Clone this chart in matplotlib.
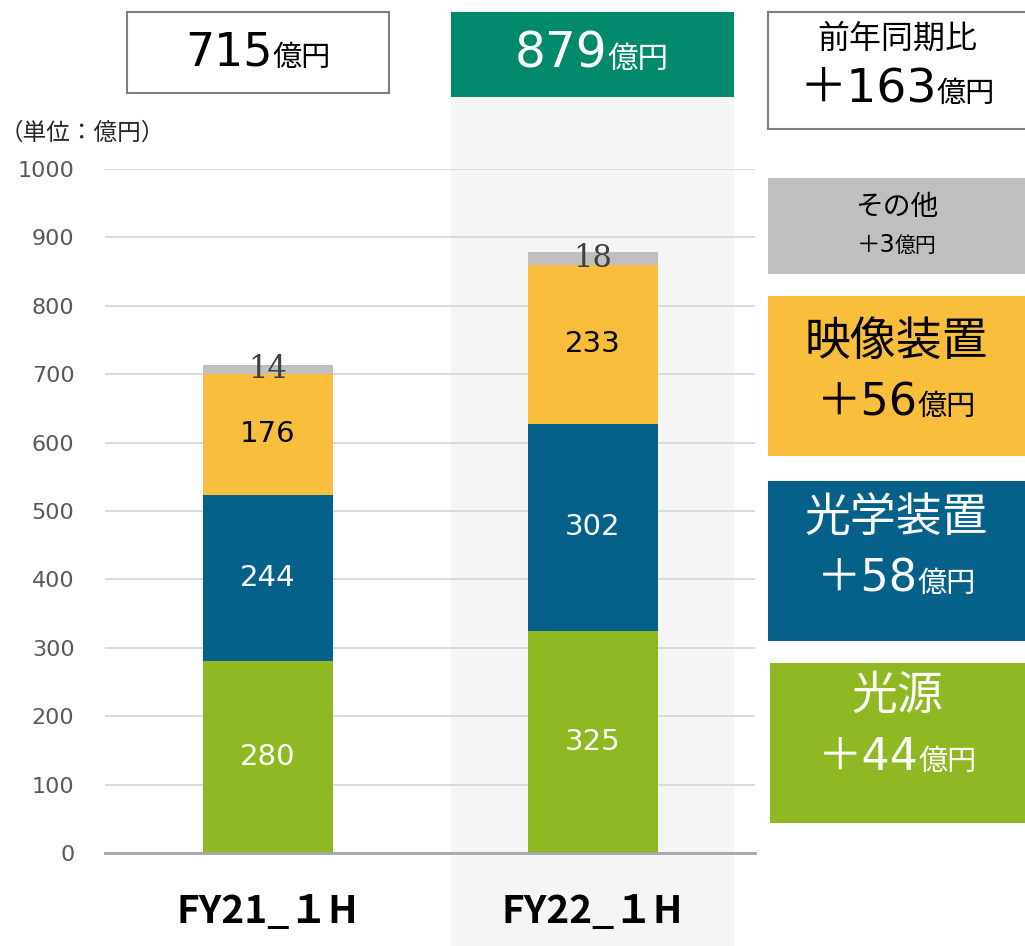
import matplotlib
matplotlib.use("Agg")
import matplotlib.pyplot as plt
import matplotlib.transforms as mtransforms
from matplotlib.patches import Rectangle

# wide latin digits (Meiryo-like), CJK falls back to Noto
plt.rcParams["font.family"] = ["DejaVu Sans", "Noto Sans CJK JP"]
CJK = ["Noto Sans CJK JP", "DejaVu Sans"]

# data
periods = ["FY21_１H", "FY22_１H"]
segments = ["光源", "光学装置", "映像装置", "その他"]
light_source = [280, 325]
optics = [244, 302]
video = [176, 233]
other = [14, 18]
totals = [715, 879]
yoy_total = 163
yoy_changes = [44, 58, 56, 3]   # same order as segments

colors = ["#8FB822", "#05618A", "#F9BE3C", "#BFBFBF"]
label_colors = ["white", "white", "black", "#404040"]

W, H = 1025, 946
fig = plt.figure(figsize=(W / 100, H / 100), dpi=100)
renderer = fig.canvas.get_renderer()


def fx(px):
    return px / W


def fy(py):
    return 1 - py / H


def mixed_text(cx, base_y, parts, color):
    """Centre a run of differently sized strings on one baseline (pixel coords)."""
    texts = [fig.text(0, fy(base_y), s, fontsize=size, color=color,
                      ha="left", va="baseline", zorder=5) for s, size in parts]
    widths = [t.get_window_extent(renderer).width for t in texts]
    x = cx - sum(widths) / 2
    for t, w in zip(texts, widths):
        t.set_x(fx(x))
        x += w


ax = fig.add_axes([fx(105), fy(853), fx(755) - fx(105), fy(169) - fy(853)])
ax.set_facecolor("none")
ax.set_xlim(-0.5, 1.5)
ax.set_ylim(0, 1000)

# stacked bars
series = [light_source, optics, video, other]
x = list(range(len(periods)))
bottom = [0] * len(periods)
for k, (vals, col, lcol) in enumerate(zip(series, colors, label_colors)):
    ax.bar(x, vals, 0.4, bottom=bottom, color=col, zorder=3)
    for i, v in enumerate(vals):
        if k == 3:
            # small "other" labels sit on the thin grey cap, serif in the original
            ax.text(x[i], bottom[i] + v / 2, str(v), ha="center", va="center",
                    fontsize=22, color=lcol, family="DejaVu Serif", zorder=4)
        else:
            ax.text(x[i], bottom[i] + v / 2, str(v), ha="center", va="center",
                    fontsize=21, color=lcol, zorder=4)
    bottom = [b + v for b, v in zip(bottom, vals)]

ax.set_yticks(range(0, 1001, 100))
ax.yaxis.grid(True, color="#D9D9D9", lw=1.3, zorder=0)
ax.tick_params(axis="y", length=0, pad=22, labelsize=16, labelcolor="#595959")
ax.set_xticks(x)
ax.set_xticklabels(periods, fontsize=28, fontweight="bold", family=CJK)
ax.tick_params(axis="x", length=0, pad=28)
for s in ["top", "right", "left"]:
    ax.spines[s].set_visible(False)
ax.spines["bottom"].set_color("#A6A6A6")
ax.spines["bottom"].set_linewidth(2)
ax.spines["bottom"].set_zorder(4)

# highlighted column behind FY22
blend = mtransforms.blended_transform_factory(ax.transData, fig.transFigure)
fig.patches.append(Rectangle((1 - 0.434, 0), 0.868, fy(97), transform=blend,
                             facecolor="#F5F5F5", edgecolor="none", zorder=-2))
fig.patches.append(Rectangle((1 - 0.434, fy(97)), 0.868, fy(12) - fy(97), transform=blend,
                             facecolor="#008A6C", edgecolor="none", zorder=-1))

fig.text(fx(0), fy(133), "（単位：億円）", fontsize=17, color="#262626", va="center",
         family=CJK)

# total boxes
fig.patches.append(Rectangle((fx(127), fy(93)), fx(389) - fx(127), fy(12) - fy(93),
                             transform=fig.transFigure, facecolor="white",
                             edgecolor="#7F7F7F", lw=1.5))
mixed_text(258, 66, [(str(totals[0]), 33), ("億円", 21)], "black")
mixed_text(592, 68, [(str(totals[1]), 35), ("億円", 22)], "white")

fig.patches.append(Rectangle((fx(768), fy(129)), fx(1040) - fx(768), fy(12) - fy(129),
                             transform=fig.transFigure, facecolor="white",
                             edgecolor="#7F7F7F", lw=1.5))
fig.text(fx(897), fy(39), "前年同期比", fontsize=23, ha="center", va="center",
         color="black", family=CJK)
mixed_text(897, 102, [("＋" + str(yoy_total), 34), ("億円", 21)], "black")

# change boxes on the right, top to bottom
boxes = [  # (segment index, x0, y0, y1, title size, title centre, value baseline, value size)
    (3, 768, 178, 274, 20, 207, 252, 17),
    (2, 768, 296, 456, 33, 342, 415, 32),
    (1, 768, 481, 641, 33, 518, 592, 32),
    (0, 770, 663, 823, 33, 696, 770, 32),
]
for idx, x0, y0, y1, tsize, tc, vb, vsize in boxes:
    fig.patches.append(Rectangle((fx(x0), fy(y1)), fx(1040) - fx(x0), fy(y0) - fy(y1),
                                 transform=fig.transFigure, facecolor=colors[idx],
                                 edgecolor="none"))
    tcol = "white" if idx < 2 else "black"
    cx = (x0 + W) / 2
    fig.text(fx(cx), fy(tc), segments[idx], fontsize=tsize, ha="center", va="center",
             color=tcol, family=CJK, zorder=5)
    small = 15 if vsize < 20 else 21
    mixed_text(cx, vb, [("＋" + str(yoy_changes[idx]), vsize), ("億円", small)], tcol)

fig.savefig("out.png", dpi=100)
